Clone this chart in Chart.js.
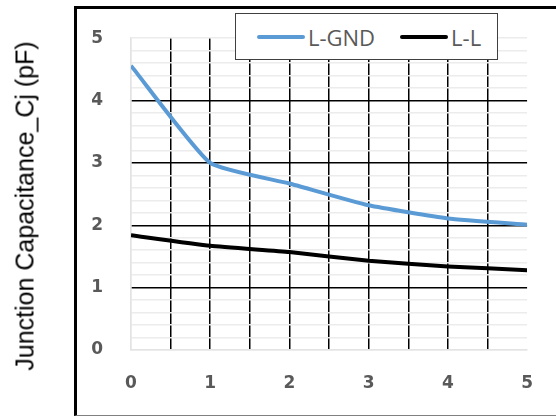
<!DOCTYPE html>
<html>
<head>
<meta charset="utf-8">
<script src="https://cdn.jsdelivr.net/npm/chart.js@4.4.1/dist/chart.umd.min.js"></script>
<style>
  html, body { margin: 0; padding: 0; background: #fff; }
  #wrap { position: relative; width: 556px; height: 417px; overflow: hidden; }
  #frame {
    position: absolute; left: 74px; top: 6px; width: 500px; height: 406px;
    border-top: 3px solid #000; border-left: 3px solid #000; border-bottom: 1px solid #808080;
  }
  #ytitle {
    position: absolute; left: 25px; top: 206px; transform: translate(-50%, -50%) rotate(-90deg);
    white-space: nowrap; font-family: "Liberation Sans", Arial, sans-serif; font-size: 25px; color: #000;
  }
  #legend {
    position: absolute; left: 235px; top: 13px; width: 263px; height: 47px; box-sizing: border-box;
    background: #fff; border: 1.5px solid #404040; display: flex; align-items: center; padding-left: 21px;
    font-family: "Open Sans", sans-serif; font-size: 22px; color: #595959; white-space: nowrap;
  }
  .item { display: flex; align-items: center; margin-right: 25px; flex-shrink: 0; }
  .swatch { width: 48px; height: 4px; margin-right: 3px; border-radius: 2px; flex-shrink: 0; }
  canvas { position: absolute; left: 0; top: 0; }
</style>
</head>
<body>
<div id="wrap">
  <div id="frame"></div>
  <canvas id="capChart" width="556" height="417"></canvas>
  <div id="ytitle">Junction Capacitance_Cj (pF)</div>
  <div id="legend"></div>
</div>
<script>
// data
const xValues = [0, 1, 2, 3, 4, 5];
const lgndValues = [4.56, 3.0, 2.67, 2.32, 2.11, 2.01];
const llValues = [1.84, 1.67, 1.57, 1.43, 1.34, 1.28];
const seriesLabels = ["L-GND", "L-L"];
const seriesColors = ["#5B9BD5", "#000000"];
const xTickLabels = ["0", "1", "2", "3", "4", "5"];
const yTickLabels = ["0", "1", "2", "3", "4", "5"];

const toPoints = (vals) => vals.map((v, i) => ({ x: xValues[i], y: v }));
const isWhole = (v) => Math.abs(v - Math.round(v)) < 1e-6;

const tickFont = { family: "'DejaVu Sans', sans-serif", size: 17, weight: "bold" };

const ctx = document.getElementById("capChart").getContext("2d");
const capChart = new Chart(ctx, {
    type: "line",
    data: {
        datasets: [
            {
                label: seriesLabels[0],
                data: toPoints(lgndValues),
                borderColor: seriesColors[0],
                borderWidth: 4,
                pointRadius: 0,
                tension: 0.15,
                fill: false
            },
            {
                label: seriesLabels[1],
                data: toPoints(llValues),
                borderColor: seriesColors[1],
                borderWidth: 4,
                pointRadius: 0,
                tension: 0.15,
                fill: false
            }
        ]
    },
    options: {
        responsive: false,
        animation: false,
        layout: { padding: { top: 38, right: 28, bottom: 0, left: 0 } },
        plugins: {
            legend: { display: false },
            tooltip: { enabled: false }
        },
        scales: {
            x: {
                type: "linear",
                min: 0,
                max: 5,
                afterFit: (scale) => { scale.height = 67; },
                border: { display: true, color: "#e3e3e3", width: 1.5 },
                grid: {
                    drawTicks: false,
                    lineWidth: 1.5,
                    color: (c) => {
                        const v = c.tick.value;
                        if (v <= 0) return "#e3e3e3";
                        if (v >= 5) return "rgba(0,0,0,0)";
                        return "#000";
                    }
                },
                ticks: {
                    stepSize: 0.5,
                    autoSkip: false,
                    maxRotation: 0,
                    padding: 23,
                    color: "#595959",
                    font: tickFont,
                    callback: (v) => isWhole(v) ? xTickLabels[Math.round(v)] : ""
                }
            },
            y: {
                min: 0,
                max: 5,
                afterFit: (scale) => { scale.width = 131; },
                border: { display: true, color: "#e3e3e3", width: 1.5 },
                grid: {
                    drawTicks: false,
                    lineWidth: 1.5,
                    color: (c) => {
                        const v = c.tick.value;
                        if (isWhole(v) && v > 0 && v < 5) return "#000";
                        return "#ececec";
                    }
                },
                ticks: {
                    stepSize: 0.2,
                    autoSkip: false,
                    padding: 28,
                    color: "#595959",
                    font: tickFont,
                    callback: (v) => isWhole(v) ? yTickLabels[Math.round(v)] : ""
                }
            }
        }
    }
});

// legend box sits over the plot like the original
const legendEl = document.getElementById("legend");
seriesLabels.forEach((label, i) => {
    const item = document.createElement("div");
    item.className = "item";
    const sw = document.createElement("span");
    sw.className = "swatch";
    sw.style.background = seriesColors[i];
    const txt = document.createElement("span");
    txt.textContent = label;
    item.appendChild(sw);
    item.appendChild(txt);
    legendEl.appendChild(item);
});
</script>
</body>
</html>
